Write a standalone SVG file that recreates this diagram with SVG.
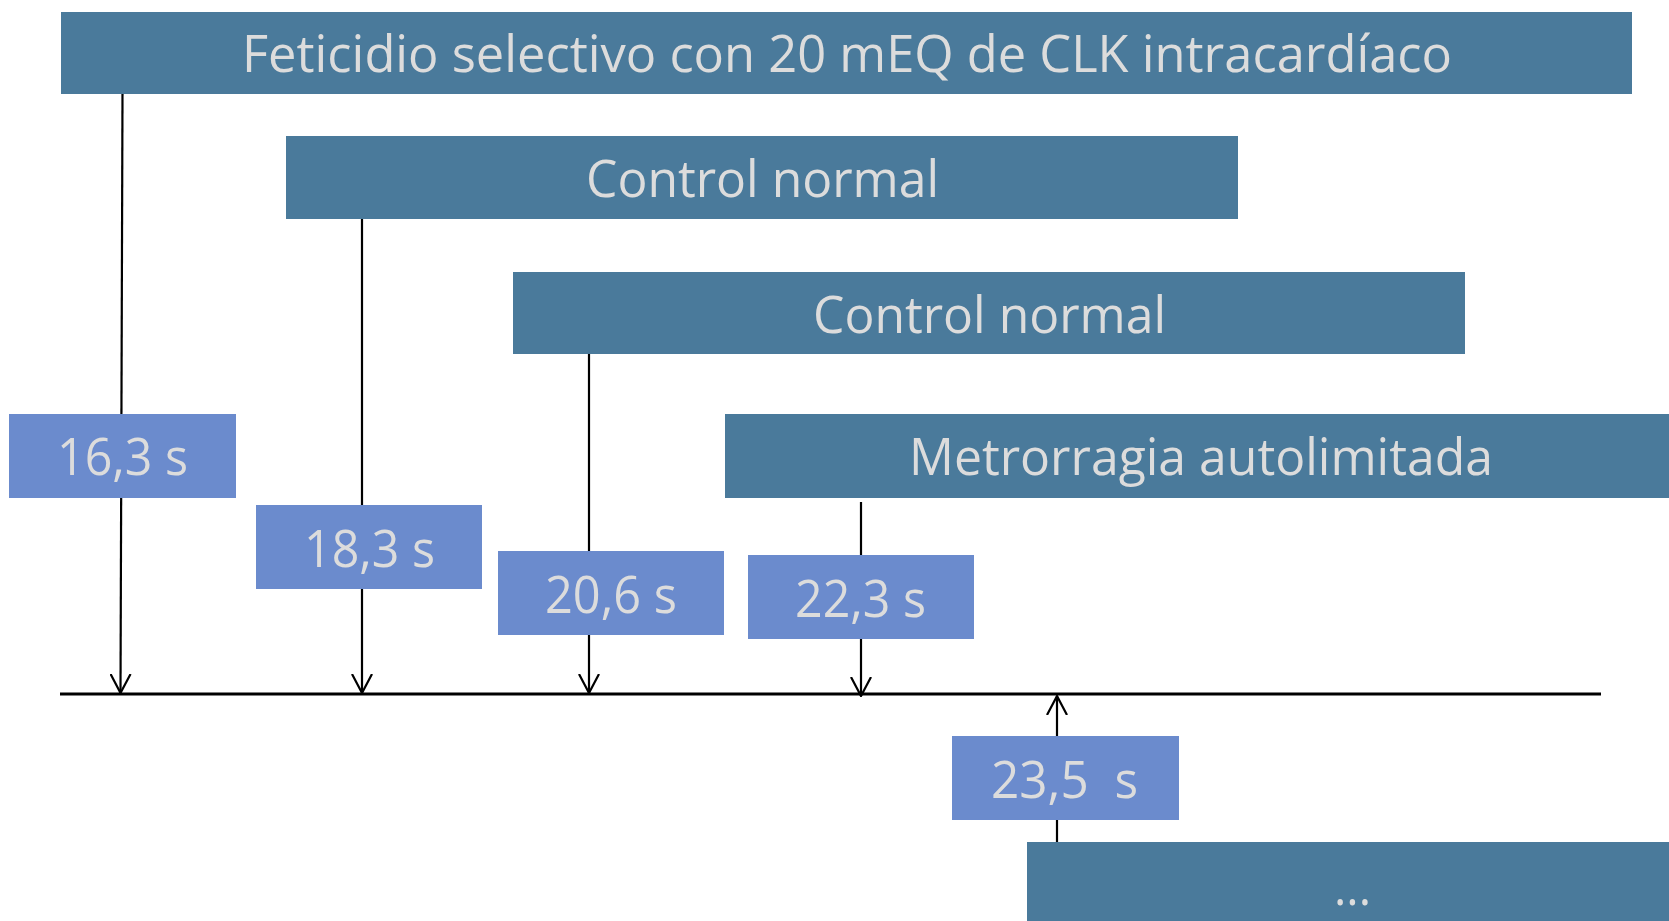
<svg xmlns="http://www.w3.org/2000/svg" width="1669" height="921" viewBox="0 0 1669 921">
<style>
.ev{fill:#4A7A9B}
.tm{fill:#6B8BCD}
text{font-family:"Open Sans","Noto Sans","Liberation Sans",sans-serif;font-size:52px;fill:#DCDCDC;text-anchor:start}
.ln{stroke:#000;stroke-width:2.2;fill:none}
.ax{stroke:#000;stroke-width:3;fill:none}
</style>
<defs>
<marker id="ah" viewBox="0 0 20 22" refX="19" refY="11" markerWidth="20" markerHeight="22" markerUnits="userSpaceOnUse" orient="auto">
<path d="M0,1 L19,11 L0,21" fill="none" stroke="#000" stroke-width="2.2"/>
</marker>
</defs>
<rect width="1669" height="921" fill="#fff"/>
<g id="connectors">
<line class="ax" x1="60" y1="694" x2="1601" y2="694"/>
<path class="ln" d="M122.5,94 L120.5,693" marker-end="url(#ah)"/>
<path class="ln" d="M362,219 L362,693" marker-end="url(#ah)"/>
<path class="ln" d="M589,354 L589,693" marker-end="url(#ah)"/>
<path class="ln" d="M861,502 L861,696" marker-end="url(#ah)"/>
<path class="ln" d="M1057,842 L1057,696" marker-end="url(#ah)"/>
</g>
<g id="n-feticidio">
<rect class="ev" x="61" y="12" width="1571" height="82"/>
<text x="242" y="72" textLength="1210" lengthAdjust="spacingAndGlyphs">Feticidio selectivo con 20 mEQ de CLK intracardíaco</text>
</g>
<g id="n-control1">
<rect class="ev" x="286" y="136" width="952" height="83"/>
<text x="586" y="197" textLength="353" lengthAdjust="spacingAndGlyphs">Control normal</text>
</g>
<g id="n-control2">
<rect class="ev" x="513" y="272" width="952" height="82"/>
<text x="813" y="333" textLength="353" lengthAdjust="spacingAndGlyphs">Control normal</text>
</g>
<g id="n-metrorragia">
<rect class="ev" x="725" y="414" width="944" height="84"/>
<text x="909" y="475" textLength="584" lengthAdjust="spacingAndGlyphs">Metrorragia autolimitada</text>
</g>
<g id="n-dots">
<rect class="ev" x="1027" y="842" width="642" height="79"/>
<text x="1334" y="905" textLength="37" lengthAdjust="spacingAndGlyphs">...</text>
</g>
<g id="t-163">
<rect class="tm" x="9" y="414" width="227" height="84"/>
<text x="57" y="475" textLength="131" lengthAdjust="spacingAndGlyphs">16,3 s</text>
</g>
<g id="t-183">
<rect class="tm" x="256" y="505" width="226" height="84"/>
<text x="304" y="567" textLength="131" lengthAdjust="spacingAndGlyphs">18,3 s</text>
</g>
<g id="t-206">
<rect class="tm" x="498" y="551" width="226" height="84"/>
<text x="545" y="613" textLength="132" lengthAdjust="spacingAndGlyphs">20,6 s</text>
</g>
<g id="t-223">
<rect class="tm" x="748" y="555" width="226" height="84"/>
<text x="795" y="617" textLength="131" lengthAdjust="spacingAndGlyphs">22,3 s</text>
</g>
<g id="t-235">
<rect class="tm" x="952" y="736" width="227" height="84"/>
<text x="991" y="798" textLength="147" lengthAdjust="spacingAndGlyphs" xml:space="preserve">23,5  s</text>
</g>
</svg>
